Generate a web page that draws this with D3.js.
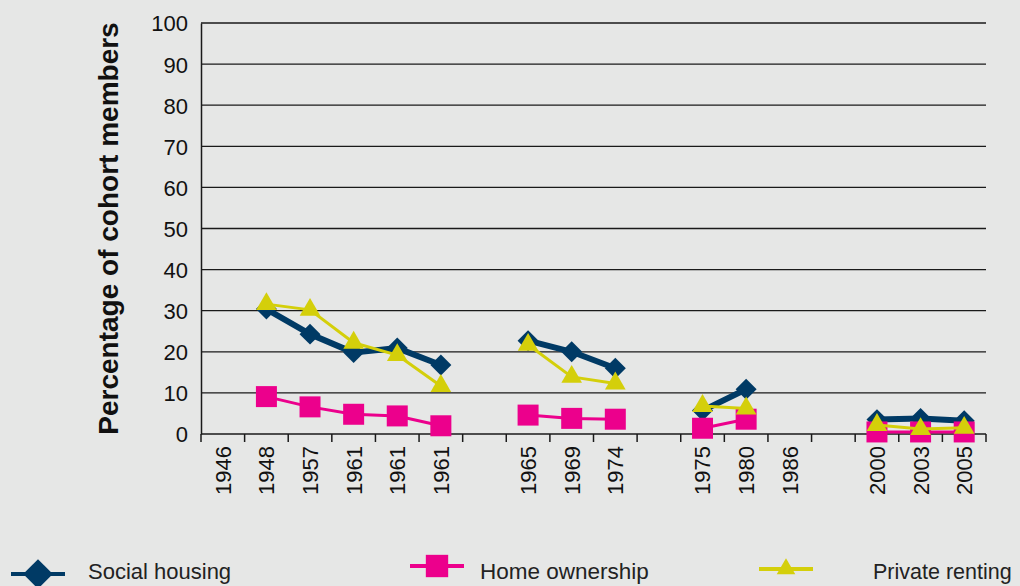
<!DOCTYPE html>
<html>
<head>
<meta charset="utf-8">
<script src="https://cdn.jsdelivr.net/npm/d3@7"></script>
<style>
  html, body { margin: 0; padding: 0; background: #e6e7e6; }
  svg { display: block; }
</style>
</head>
<body>
<script>
// x slots (blank ones are gaps between cohorts)
var years = ["1946", "1948", "1957", "1961", "1961", "1961", "",
             "1965", "1969", "1974", "",
             "1975", "1980", "1986", "",
             "2000", "2003", "2005"];

var socialHousing = [null, 30.4, 24.3, 19.8, 20.9, 16.8, null,
                     22.7, 20.0, 16.0, null,
                     5.7, 10.9, null, null,
                     3.5, 3.8, 3.2];
var homeOwnership = [null, 9.1, 6.6, 4.8, 4.4, 2.0, null,
                     4.6, 3.8, 3.6, null,
                     1.4, 3.6, null, null,
                     0.5, 0.5, 0.5];
var privateRenting = [null, 31.6, 30.2, 22.2, 19.2, 11.7, null,
                      21.7, 13.9, 12.3, null,
                      6.8, 6.2, null, null,
                      2.2, 1.2, 1.5];

var yTicks = [0, 10, 20, 30, 40, 50, 60, 70, 80, 90, 100];

const WIDTH = 1020;
const HEIGHT = 586;
const LEFT = 201, RIGHT = 986, TOP = 23, BOTTOM = 434;

var series = [
    {name: "Social housing", values: socialHousing, color: "#003a65", width: 6,
     symbol: d3.symbolSquare, size: 220, legendSize: 440, rotate: 45,
     legendX: 38, legendY: 574, textX: 88, textSize: 22},
    {name: "Home ownership", values: homeOwnership, color: "#ec008c", width: 3,
     symbol: d3.symbolSquare, size: 441, legendSize: 500, rotate: 0,
     legendX: 437, legendY: 566, textX: 480, textSize: 22.5},
    {name: "Private renting", values: privateRenting, color: "#d4cf0a", width: 3,
     symbol: d3.symbolTriangle, size: 185, legendSize: 150, rotate: 0,
     legendX: 786, legendY: 569, textX: 873, textSize: 21.5}
];

var xScale = d3.scaleBand()
    .domain(d3.range(years.length))
    .range([LEFT, RIGHT]);

var yScale = d3.scaleLinear()
    .domain([0, 100])
    .range([BOTTOM, TOP]);

var svg = d3.select("body")
    .append("svg")
    .attr("width", WIDTH)
    .attr("height", HEIGHT);

// gridlines
svg.append("g")
    .selectAll("line")
    .data(yTicks.slice(1))
    .enter()
    .append("line")
    .attr("x1", LEFT)
    .attr("x2", RIGHT)
    .attr("y1", d => yScale(d))
    .attr("y2", d => yScale(d))
    .attr("stroke", "#1a1a1a")
    .attr("stroke-width", 1.3);

// y axis
var yAxis = svg.append("g")
    .attr("transform", `translate(${LEFT},0)`)
    .call(d3.axisLeft(yScale).tickValues(yTicks).tickSize(0).tickPadding(13));
yAxis.select(".domain").attr("stroke", "#1a1a1a").attr("stroke-width", 1.5);
yAxis.selectAll("text")
    .attr("font-family", "Liberation Sans, Arial, sans-serif")
    .attr("font-size", "22px")
    .attr("fill", "#111")
    .attr("dy", "0.36em");

// x axis: ticks on band edges, labels rotated
var xg = svg.append("g")
    .attr("transform", `translate(0,${BOTTOM})`);
xg.append("line")
    .attr("x1", LEFT).attr("x2", RIGHT)
    .attr("stroke", "#1a1a1a").attr("stroke-width", 1.5);
xg.selectAll(".tick")
    .data(d3.range(years.length + 1))
    .enter()
    .append("line")
    .attr("x1", i => LEFT + i * xScale.bandwidth())
    .attr("x2", i => LEFT + i * xScale.bandwidth())
    .attr("y1", 0)
    .attr("y2", 8)
    .attr("stroke", "#1a1a1a")
    .attr("stroke-width", 1.5);
xg.selectAll("text")
    .data(years)
    .enter()
    .append("text")
    .text(d => d)
    .attr("transform", (d, i) =>
        `translate(${xScale(i) + xScale.bandwidth() / 2},12) rotate(-90)`)
    .attr("text-anchor", "end")
    .attr("dy", "0.36em")
    .attr("font-family", "Liberation Sans, Arial, sans-serif")
    .attr("font-size", "22px")
    .attr("fill", "#111");

// y axis title
svg.append("text")
    .text("Percentage of cohort members")
    .attr("transform", `translate(118,${(TOP + BOTTOM) / 2}) rotate(-90)`)
    .attr("text-anchor", "middle")
    .attr("font-family", "Liberation Sans, Arial, sans-serif")
    .attr("font-weight", "bold")
    .attr("font-size", "28px")
    .attr("fill", "#111");

// lines and markers
var line = d3.line()
    .defined(d => d.v != null)
    .x(d => xScale(d.i) + xScale.bandwidth() / 2)
    .y(d => yScale(d.v));

series.forEach(function (s) {
    var pts = s.values.map((v, i) => ({i: i, v: v}));
    svg.append("path")
        .datum(pts)
        .attr("d", line)
        .attr("fill", "none")
        .attr("stroke", s.color)
        .attr("stroke-width", s.width)
        .attr("stroke-linejoin", "round");

    svg.append("g")
        .selectAll("path")
        .data(pts.filter(d => d.v != null))
        .enter()
        .append("path")
        .attr("d", d3.symbol().type(s.symbol).size(s.size))
        .attr("transform", d =>
            `translate(${xScale(d.i) + xScale.bandwidth() / 2},${yScale(d.v)}) rotate(${s.rotate})`)
        .attr("fill", s.color);
});

// legend
var legend = svg.append("g");
series.forEach(function (s) {
    legend.append("line")
        .attr("x1", s.legendX - 27)
        .attr("x2", s.legendX + 27)
        .attr("y1", s.legendY)
        .attr("y2", s.legendY)
        .attr("stroke", s.color)
        .attr("stroke-width", 4);
    legend.append("path")
        .attr("d", d3.symbol().type(s.symbol).size(s.legendSize))
        .attr("transform", `translate(${s.legendX},${s.legendY}) rotate(${s.rotate})`)
        .attr("fill", s.color);
    legend.append("text")
        .text(s.name)
        .attr("x", s.textX)
        .attr("y", 579)
        .attr("font-family", "Liberation Sans, Arial, sans-serif")
        .attr("font-size", s.textSize + "px")
        .attr("fill", "#222");
});
</script>
</body>
</html>
